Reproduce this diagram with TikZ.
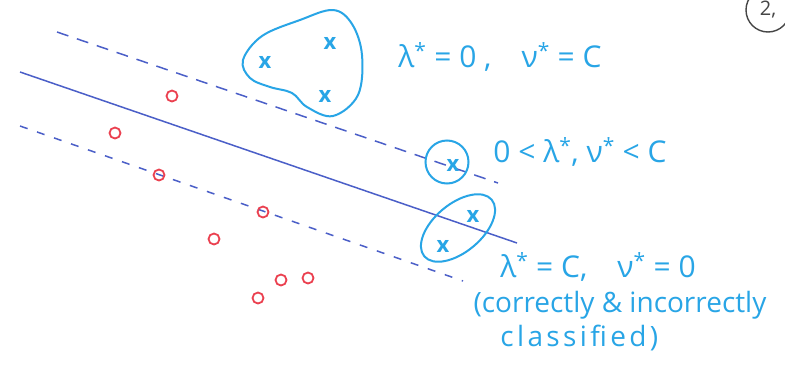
\documentclass[tikz,border=0pt]{standalone}
\usepackage{fontspec}
\setmainfont{Open Sans}
\usetikzlibrary{shapes.geometric,positioning}

\definecolor{penblue}{RGB}{40,165,230}
\definecolor{lineblue}{RGB}{75,95,200}
\definecolor{penred}{RGB}{235,65,80}
\definecolor{pengray}{RGB}{70,70,70}

\tikzset{
  pt/.style={circle, draw=penred, line width=1.8pt, minimum size=11pt, inner sep=0pt},
  cross/.style={text=penblue, font=\fontsize{22}{22}\selectfont\bfseries, inner sep=0pt},
  lbl/.style={text=penblue, font=\fontsize{28}{32}\selectfont, inner sep=0pt},
  eqn/.style={lbl, font=\fontsize{30}{32}\selectfont},
  ring/.style={draw=penblue, line width=2pt},
  sepline/.style={draw=lineblue, line width=1.5pt},
  upmargin/.style={sepline, dash pattern=on 12pt off 9pt},
  lowmargin/.style={sepline, dash pattern=on 8pt off 10pt}
}

\begin{document}
\begin{tikzpicture}[x=1pt,y=-1pt]
\useasboundingbox (0,0) rectangle (785,370);
\fill[white] (0,0) rectangle (785,370);

\coordinate (upA) at (57,32);
\coordinate (upB) at (498,183);
\coordinate (sepA) at (20,72);
\coordinate (sepB) at (517,243);
\coordinate (lowA) at (20,126);
\coordinate (lowB) at (463,281);

\draw[upmargin] (upA) -- (upB);
\draw[sepline] (sepA) -- (sepB);
\draw[lowmargin] (lowA) -- (lowB);

% negative class
\foreach \px/\py [count=\i] in {172/96, 115/133, 159/175, 263/212, 214/239, 281/280, 308/278, 258/298}
  \node[pt] (o\i) at (\px,\py) {};

% positive class
\node[cross] (x1) at (265,62) {x};
\node[cross] (x2) at (330,43) {x};
\node[cross] (x3) at (325,96) {x};
\node[cross] (x4) at (453,165) {x};
\node[cross] (x5) at (473,216) {x};
\node[cross] (x6) at (443,246) {x};

\draw[ring] plot[smooth cycle, tension=0.6] coordinates {
  (243,60) (262,36) (300,20) (333,10) (352,24) (362,55) (358,95)
  (333,116) (307,107) (292,93) (270,87) (250,78)};
\node[ring, circle, minimum size=43pt] (sv) at (447,162) {};
\node[ring, ellipse, minimum width=88pt, minimum height=48pt, rotate=40] (err) at (458,228) {};

\node[eqn] (free) at (500,57) {λ\textsuperscript{*} = 0 ,\quad ν\textsuperscript{*} = C};
\node[eqn] (bound) at (580,152) {0 < λ\textsuperscript{*}, ν\textsuperscript{*} < C};
\node[eqn] (atc) at (598,267) {λ\textsuperscript{*} = C,\quad ν\textsuperscript{*} = 0};
\node[lbl] (note) at (620,305) {(correctly \& incorrectly};
\node[lbl, below left=6pt and -185pt of note] (note2) {\addfontfeature{LetterSpace=12}classified)};

\node[circle, draw=pengray, line width=1.4pt, minimum size=44pt, text=pengray,
      font=\fontsize{20}{20}\selectfont] (page) at (768,10) {2,};
\end{tikzpicture}
\end{document}
